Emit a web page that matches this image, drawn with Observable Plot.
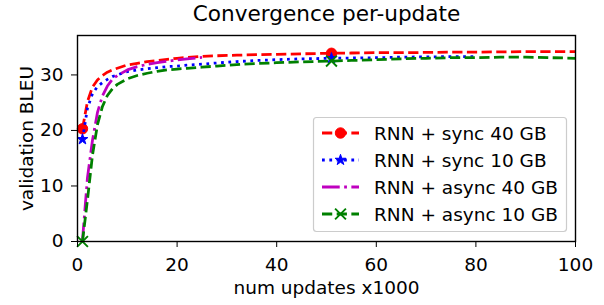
<!DOCTYPE html>
<html><head><meta charset="utf-8">
<script src="https://cdn.jsdelivr.net/npm/d3@7"></script>
<script src="https://cdn.jsdelivr.net/npm/@observablehq/plot@0.6"></script>
<style>body{margin:0;background:#fff} svg{display:block}</style>
</head><body><div id="chart"></div>
<script>
const title = "Convergence per-update";
const xLabel = "num updates x1000";
const yLabel = "validation BLEU";
const xTicks = [0, 20, 40, 60, 80, 100];
const yTicks = [0, 10, 20, 30];
const seriesNames = ["RNN + sync 40 GB", "RNN + sync 10 GB", "RNN + async 40 GB", "RNN + async 10 GB"];
const updates = [1,2,3,4,5,6,7,8,10,12,14,16,18,20,22,25,28,32,36,40,45,51,55,60,65,70,75,80,85,90,95,100];
const sync40 = [20.3,25.2,27.8,29.1,29.9,30.5,30.9,31.2,31.8,32.1,32.4,32.6,32.8,33.0,33.15,33.35,33.45,33.55,33.65,33.7,33.8,33.9,33.95,34.0,34.0,34.05,34.1,34.1,34.15,34.2,34.2,34.2];
const sync10 = [18.4,24.0,26.6,27.9,28.6,29.2,29.7,30.0,30.6,30.9,31.1,31.3,31.5,31.6,31.75,31.95,32.15,32.4,32.6,32.75,32.9,33.0,33.05,33.1,33.2,33.25,33.3,33.3];
const async40 = [0.2,11.5,18.2,23.2,26.2,28.0,29.2,29.9,30.9,31.5,31.9,32.2,32.45,32.7,32.9,33.15];
const async10 = [0,7.5,15.5,21.0,24.3,26.3,27.5,28.3,29.3,29.9,30.3,30.65,30.9,31.05,31.2,31.4,31.6,31.85,32.05,32.2,32.35,32.5,32.6,32.75,32.9,33.0,33.1,33.1,33.2,33.2,33.1,33.0];
const markerUpdates = [1, 51];

const lw = 2.77;
const FS = 18.5;
const styles = [
  {color: "#ff0000", dash: `${3.7*lw},${1.6*lw}`, symbol: "circle", fill: true, r: 5.2},
  {color: "#0000ff", dash: `${1*lw},${1.65*lw}`, symbol: "star", fill: true, r: 3.4},
  {color: "#bf00bf", dash: `${6.4*lw},${1.6*lw},${1*lw},${1.6*lw}`, symbol: null},
  {color: "#008000", dash: `${3.7*lw},${1.6*lw}`, symbol: "times", fill: false, r: 5}
];
const values = [sync40, sync10, async40, async10];
const table = values.map((vals, i) => vals.map((y, j) => ({x: updates[j], y, s: seriesNames[i]})));

const marks = [];
table.forEach((rows, i) => {
  const st = styles[i];
  marks.push(Plot.line(rows, {x: "x", y: "y", stroke: st.color, strokeWidth: lw, strokeDasharray: st.dash, strokeLinecap: "butt"}));
  if (st.symbol) {
    const pts = rows.filter(d => markerUpdates.includes(d.x));
    if (st.fill) marks.push(Plot.dot(pts, {x: "x", y: "y", symbol: st.symbol, r: st.r, fill: st.color, stroke: st.color, strokeWidth: 1}));
    else marks.push(Plot.dot(pts, {x: "x", y: "y", symbol: st.symbol, r: st.r, stroke: st.color, strokeWidth: 1.9}));
  }
});

const chart = Plot.plot({
  width: 604, height: 305,
  marginLeft: 77, marginRight: 29, marginTop: 35, marginBottom: 64,
  style: {fontFamily: "DejaVu Sans", fontSize: FS + "px", color: "black", background: "white", overflow: "visible"},
  x: {domain: [0, 100]},
  y: {domain: [0, 37.1]},
  marks: [
    ...marks,
    Plot.frame({stroke: "black", strokeWidth: 1.4}),
    Plot.axisX({ticks: xTicks, tickSize: 6, tickPadding: 10, fontSize: FS, label: xLabel, labelAnchor: "center", labelOffset: 52, labelArrow: "none"}),
    Plot.axisY({ticks: yTicks, tickSize: 6, tickPadding: 8, fontSize: FS, label: yLabel, labelAnchor: "center", labelOffset: 58, labelArrow: "none"}),
    Plot.text([title], {frameAnchor: "top", lineAnchor: "bottom", dy: -15, fontSize: 21.6, fill: "black"})
  ]
});
document.getElementById("chart").appendChild(chart);

// legend
const svg = d3.select(chart);
const lg = svg.append("g").attr("font-family", "DejaVu Sans").attr("font-size", FS).attr("text-anchor", "start");
lg.append("rect").attr("x", 313.5).attr("y", 117.5).attr("width", 253).attr("height", 114).attr("rx", 3)
  .attr("fill", "white").attr("fill-opacity", 0.8).attr("stroke", "#cccccc").attr("stroke-width", 1.2);
const rowY = [133, 160, 187, 214];
seriesNames.forEach((name, i) => {
  const st = styles[i];
  const y = rowY[i];
  lg.append("line").attr("x1", 322).attr("x2", 359).attr("y1", y).attr("y2", y)
    .attr("stroke", st.color).attr("stroke-width", lw).attr("stroke-dasharray", st.dash);
  if (st.symbol) {
    const sym = st.symbol === "circle" ? d3.symbolCircle : st.symbol === "star" ? d3.symbolStar : d3.symbolTimes;
    const p = lg.append("path").attr("transform", `translate(340.5,${y})`).attr("d", d3.symbol(sym, Math.PI * st.r * st.r)());
    if (st.fill) p.attr("fill", st.color).attr("stroke", st.color).attr("stroke-width", 1);
    else p.attr("fill", "none").attr("stroke", st.color).attr("stroke-width", 1.9);
  }
  lg.append("text").attr("x", 374).attr("y", y + 6.5).attr("fill", "black").text(name);
});
</script>
</body></html>
